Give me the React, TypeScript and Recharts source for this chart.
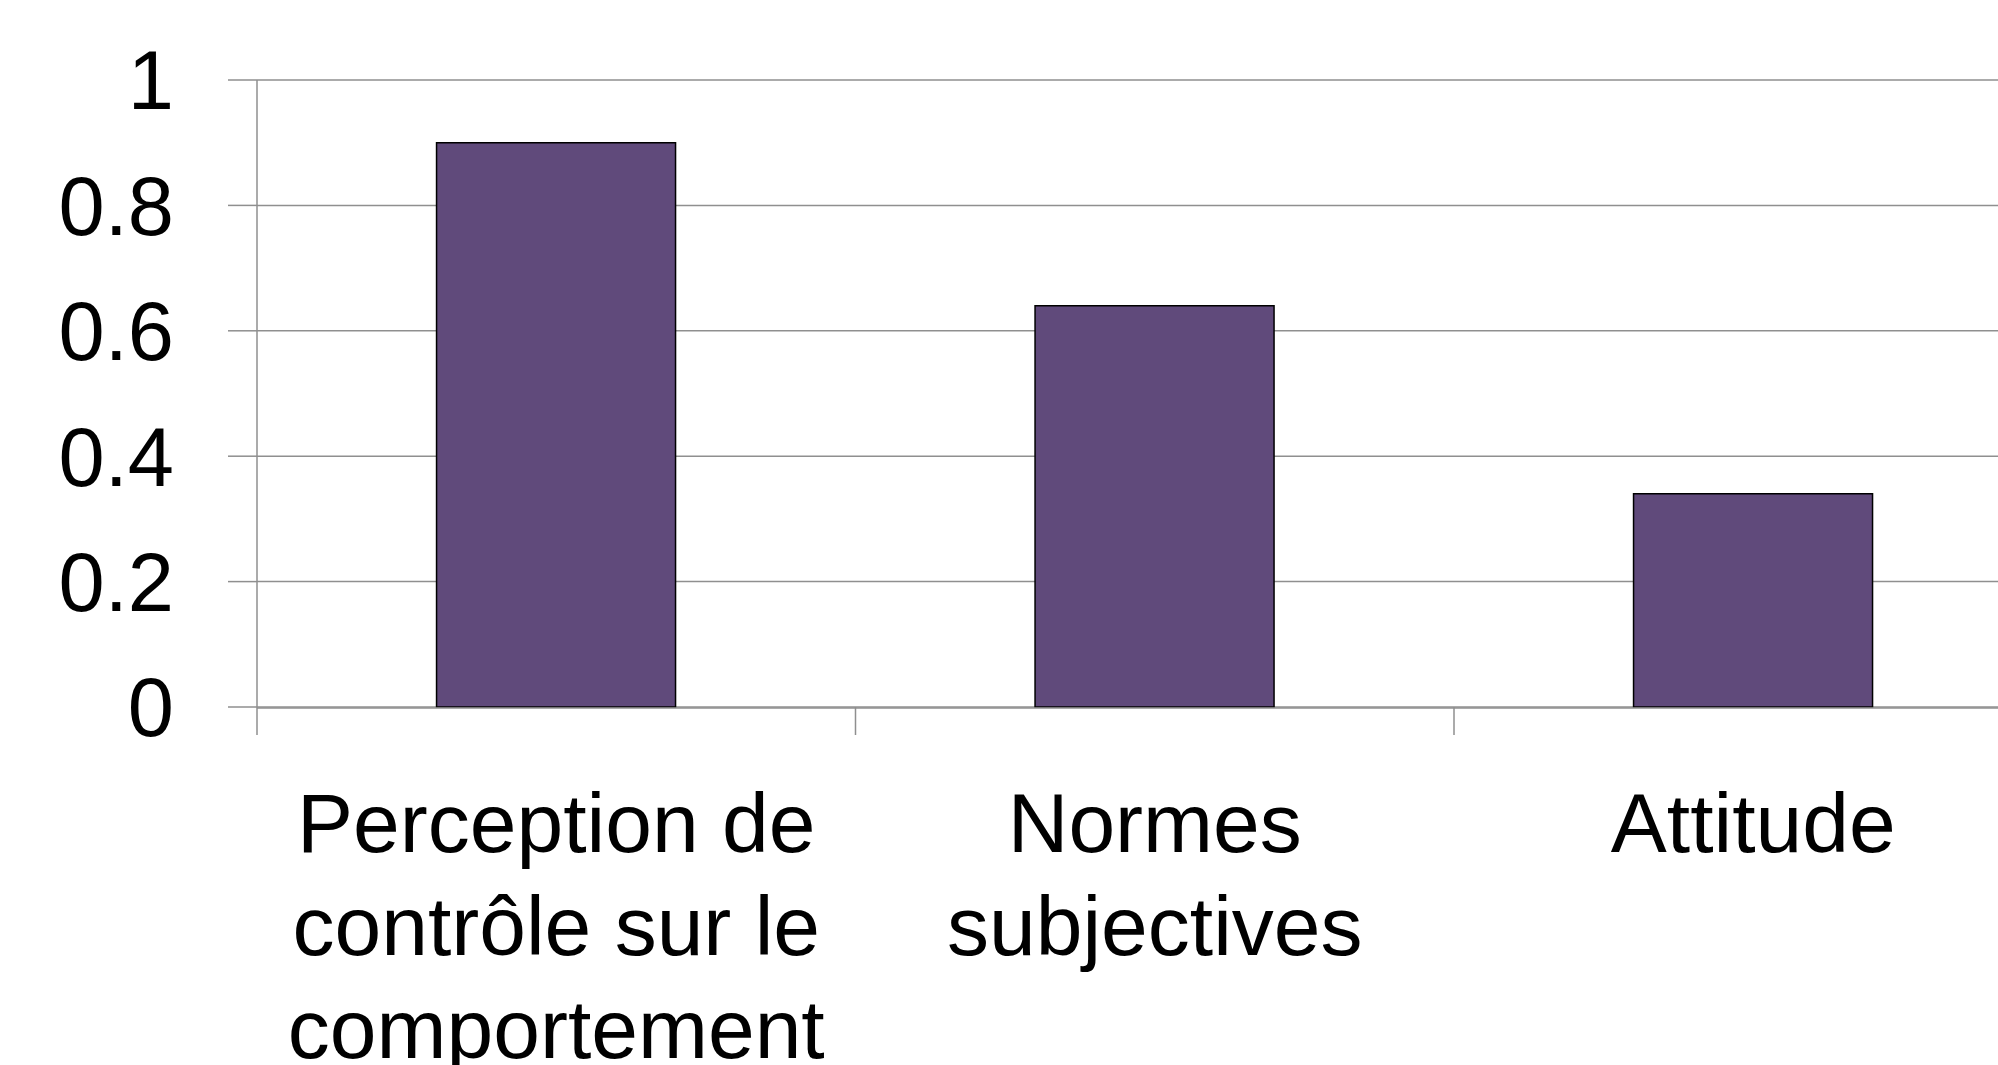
import React from "react";
import { BarChart, Bar, XAxis, YAxis, CartesianGrid } from "recharts";

const categories = [
  "Perception de\ncontrôle sur le\ncomportement",
  "Normes\nsubjectives",
  "Attitude",
];
const values = [0.9, 0.64, 0.34];
const yTicks = [0, 0.2, 0.4, 0.6, 0.8, 1];
const edgeTicks = [0, 1, 2, 3];

const data = categories.map((name, i) => ({ name, value: values[i], pos: i + 0.5 }));

const GRID = "#8f8f8f";
const FONT = "'Liberation Sans', Arial, sans-serif";

const CatTick = (props: any) => {
  const { x, y, payload } = props;
  const lines = String(payload.value).split("\n");
  return (
    <text
      x={x}
      y={y}
      textAnchor="middle"
      fontFamily={FONT}
      fontSize={84}
      fill="#000"
    >
      {lines.map((l, i) => (
        <tspan key={i} x={x} dy={i === 0 ? 144 : 103}>
          {l}
        </tspan>
      ))}
    </text>
  );
};

const EmptyTick = () => <g />;

export default function App() {
  return (
    <div
      style={{
        position: "fixed",
        left: 0,
        top: 0,
        width: 1998,
        height: 1065,
        overflow: "hidden",
        background: "#fff",
      }}
    >
      <BarChart
        width={2100}
        height={1065}
        data={data}
        margin={{ top: 80, left: 0, right: 47.5, bottom: 0 }}
        barCategoryGap="30%"
      >
        <CartesianGrid
          vertical={false}
          stroke={GRID}
          strokeWidth={1.5}
          yAxisId="y"
          xAxisId="b"
        />
        <XAxis
          xAxisId="a"
          dataKey="pos"
          type="number"
          domain={[0, 3]}
          ticks={edgeTicks}
          height={1}
          axisLine={false}
          tick={<EmptyTick />}
          tickSize={28}
          tickLine={{ stroke: GRID, strokeWidth: 1.5 }}
          stroke={GRID}
          allowDataOverflow
        />
        <XAxis
          xAxisId="b"
          dataKey="name"
          height={357}
          tickLine={false}
          tickSize={0}
          tickMargin={0}
          axisLine={{ stroke: GRID, strokeWidth: 1.5 }}
          tick={<CatTick />}
          interval={0}
        />
        <YAxis
          yAxisId="y"
          width={257}
          domain={[0, 1]}
          ticks={yTicks}
          tickSize={29}
          tickMargin={54}
          axisLine={{ stroke: GRID, strokeWidth: 1.5 }}
          tickLine={{ stroke: GRID, strokeWidth: 1.5 }}
          tick={{ fontFamily: FONT, fontSize: 83, fill: "#000" }}
        />
        <Bar
          dataKey="value"
          xAxisId="b"
          yAxisId="y"
          fill="#604A7B"
          stroke="#000"
          strokeWidth={1.5}
          isAnimationActive={false}
        />
      </BarChart>
    </div>
  );
}
